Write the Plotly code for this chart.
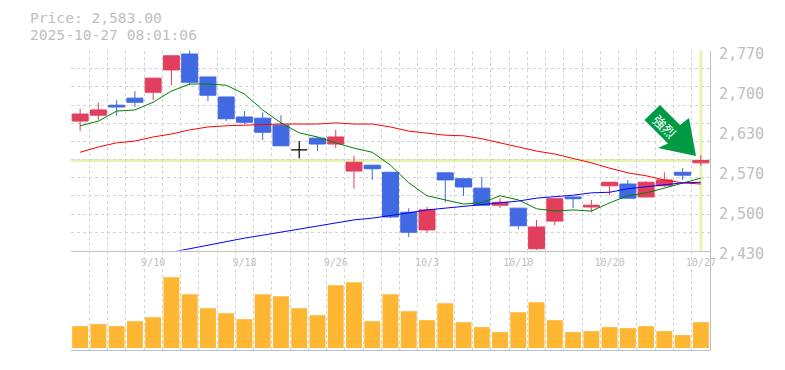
import plotly.graph_objects as go
from plotly.subplots import make_subplots

dates = ["9/4","9/5","9/8","9/9","9/10","9/11","9/12","9/16","9/17","9/18","9/19","9/22","9/24","9/25","9/26",
         "9/29","9/30","10/1","10/2","10/3","10/6","10/7","10/8","10/9","10/10","10/14","10/15","10/16","10/17",
         "10/20","10/21","10/22","10/23","10/24","10/27"]
labelled_dates = ["9/10","9/18","9/26","10/3","10/10","10/20","10/27"]

opens  = [2650,2660,2677,2689,2699,2737,2764,2725,2691,2657,2655,2643,2601,2621,2611,2565,2575,2563,2495,2465,
          2562,2552,2536,2507,2502,2433,2480,2521,2504,2540,2543,2521,2540,2563,2579]
highs  = [2671,2681,2686,2701,2723,2761,2771,2725,2691,2667,2665,2660,2616,2623,2635,2591,2575,2563,2502,2504,
          2562,2552,2555,2519,2502,2482,2519,2521,2516,2546,2550,2548,2563,2570,2592]
lows   = [2633,2652,2659,2674,2686,2711,2711,2684,2650,2645,2618,2608,2587,2599,2604,2535,2550,2485,2453,2460,
          2512,2523,2507,2502,2466,2431,2473,2502,2495,2524,2519,2521,2538,2550,2574]
closes = [2662,2669,2674,2682,2723,2761,2716,2694,2654,2648,2631,2608,2601,2611,2623,2580,2569,2487,2461,2499,
          2550,2538,2507,2512,2472,2470,2518,2518,2507,2546,2519,2546,2550,2558,2583]
ma_short = [2642,2650,2667,2669,2682,2701,2713,2713,2711,2696,2669,2647,2630,2623,2613,2604,2597,2575,2545,2523,
            2516,2509,2511,2523,2516,2501,2497,2499,2497,2511,2523,2528,2536,2545,2553]
ma_mid = [2597,2606,2613,2616,2623,2628,2635,2640,2642,2643,2645,2645,2645,2645,2647,2645,2645,2640,2633,2630,
          2626,2625,2620,2613,2606,2599,2594,2587,2579,2570,2562,2557,2550,2545,2543]
ma_long = [None,None,None,None,None,2427,2433,2439,2446,2451,2456,2461,2467,2472,2477,2482,2485,2489,2494,2499,
           2502,2504,2507,2511,2514,2519,2521,2524,2528,2529,2535,2538,2541,2545,2546]
volumes = [110,120,110,135,155,355,270,200,175,145,270,260,200,165,315,330,135,270,185,140,225,130,105,80,180,230,
           140,80,85,105,100,110,85,65,130]
last_price = 2583
price_ticks = [2770,2702,2634,2566,2498,2430]
price_tick_text = ["2,770","2,700","2,630","2,570","2,500","2,430"]
price_header = "Price: 2,583.00"
time_header = "2025-10-27 08:01:06"
arrow_label = "強烈"

W, H = 785, 370
L, R, T, M, B = 71, 710, 50.5, 250.5, 350
GREY = "#c0c0c0"
GRID = "#d4d4d4"
DASH = "3px,3px"
FONT = "DejaVu Sans Mono"

fig = make_subplots(rows=2, cols=1, shared_xaxes=False)

colored = [i for i in range(len(dates)) if opens[i] != closes[i]]
doji = [i for i in range(len(dates)) if opens[i] == closes[i]]
pick = lambda seq, idx: [seq[i] for i in idx]

fig.add_trace(go.Candlestick(
    x=pick(dates, colored), open=pick(opens, colored), high=pick(highs, colored),
    low=pick(lows, colored), close=pick(closes, colored), whiskerwidth=0,
    increasing=dict(line=dict(color="#e23f5f", width=1), fillcolor="#e23f5f"),
    decreasing=dict(line=dict(color="#4169e1", width=1), fillcolor="#4169e1"),
), row=1, col=1)
fig.add_trace(go.Candlestick(
    x=pick(dates, doji), open=pick(opens, doji), high=pick(highs, doji),
    low=pick(lows, doji), close=pick(closes, doji), whiskerwidth=0,
    increasing=dict(line=dict(color="#000000", width=1.2), fillcolor="#000000"),
    decreasing=dict(line=dict(color="#000000", width=1.2), fillcolor="#000000"),
), row=1, col=1)
for values, color in ((ma_short, "#008000"), (ma_mid, "#ff0000"), (ma_long, "#0000ff")):
    fig.add_trace(go.Scatter(x=dates, y=values, mode="lines", line=dict(color=color, width=1)), row=1, col=1)
fig.add_trace(go.Bar(x=dates, y=volumes, marker=dict(color="#ffb733", line=dict(width=0))), row=2, col=1)

fig.update_layout(
    width=W, height=H, autosize=False, showlegend=False,
    paper_bgcolor="white", plot_bgcolor="white",
    margin=dict(l=0, r=0, t=0, b=0, pad=0, autoexpand=False),
    boxmode="overlay", boxgap=0.125, boxgroupgap=0, bargap=0.125,
    font=dict(family=FONT, color=GREY),
)

xcommon = dict(
    type="category", categoryorder="array", categoryarray=dates, range=[-0.5, len(dates) - 0.5],
    tickson="boundaries", tickmode="array", tickvals=dates, ticklen=0, automargin=False,
    showgrid=True, gridcolor=GRID, griddash=DASH, gridwidth=1,
    rangeslider=dict(visible=False), zeroline=False, fixedrange=True,
)
fig.update_layout(
    xaxis=dict(**xcommon, domain=[L / W, R / W],
               ticktext=[d if d in labelled_dates else " " for d in dates], tickangle=0,
               showticklabels=True, tickfont=dict(size=10, color=GREY, family=FONT),
               showline=True, linecolor=GREY, linewidth=1, ticklabelstandoff=2),
    xaxis2=dict(**xcommon, domain=[L / W, R / W], matches="x",
                ticktext=[" " for d in dates], showticklabels=False,
                showline=True, linecolor=GREY, linewidth=1),
    yaxis=dict(domain=[1 - M / H, 1 - T / H], range=[2430, 2770], side="right", automargin=False,
               tickmode="array", tickvals=price_ticks, ticktext=price_tick_text,
               tickfont=dict(size=15, color=GREY, family=FONT), ticks="", ticklen=0, ticklabelstandoff=5,
               ticklabelshift=3,
               showgrid=False, zeroline=False, showline=True, linecolor=GREY, linewidth=1, fixedrange=True,
               minor=dict(showgrid=True, tick0=2430, dtick=340 / 11, gridcolor=GRID, griddash=DASH,
                          gridwidth=1, ticklen=0)),
    yaxis2=dict(domain=[1 - B / H, 1 - M / H], range=[-10, 490], side="right", automargin=False,
                showticklabels=False, ticks="", showgrid=False, zeroline=False,
                showline=True, linecolor=GREY, linewidth=1, fixedrange=True),
)

# highlight lines at the last price and last date
fig.add_shape(type="line", xref="x domain", yref="y", x0=0, x1=1, y0=last_price, y1=last_price,
              line=dict(color="#e6f5ac", width=3), layer="below")
fig.add_shape(type="line", xref="x", yref="y domain", x0=dates[-1], x1=dates[-1], y0=0, y1=1,
              line=dict(color="#e6f5ac", width=3), layer="below")

# green signal arrow (decoration, positioned in page pixels)
pts = [(660, 105), (644.5, 120), (668, 143.5), (658, 148), (696, 156), (689, 118), (680, 125)]
path = "M " + " L ".join(f"{x / W:.5f} {1 - y / H:.5f}" for x, y in pts) + " Z"
fig.add_shape(type="path", xref="paper", yref="paper", path=path,
              fillcolor="#009944", line=dict(width=0), layer="above")
fig.add_annotation(xref="paper", yref="paper", x=665 / W, y=1 - 126 / H, text=arrow_label, textangle=45,
                   showarrow=False, font=dict(size=13, color="white", family="Noto Sans CJK JP"),
                   xanchor="center", yanchor="middle")

# header
fig.add_annotation(xref="paper", yref="paper", x=30 / W, y=1 - 17.5 / H, text=price_header, showarrow=False,
                   xanchor="left", yanchor="middle", borderpad=0, borderwidth=0,
                   font=dict(size=14.6, color=GREY, family=FONT))
fig.add_annotation(xref="paper", yref="paper", x=30 / W, y=1 - 34.5 / H, text=time_header, showarrow=False,
                   xanchor="left", yanchor="middle", borderpad=0, borderwidth=0,
                   font=dict(size=14.6, color=GREY, family=FONT))

fig.write_html("out.html", config={"displayModeBar": False},
               post_script="document.body.style.margin='0';document.body.style.overflow='hidden';")
